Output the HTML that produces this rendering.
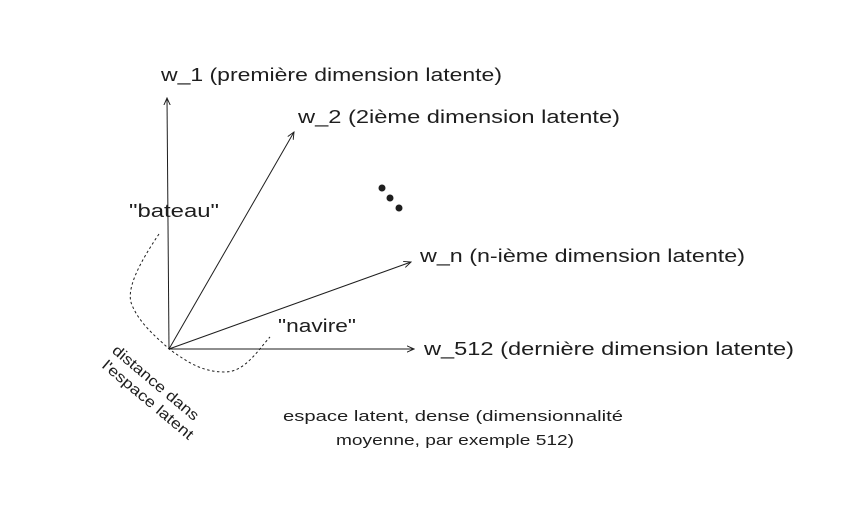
<!DOCTYPE html>
<html><head><meta charset="utf-8"><style>html,body{margin:0;padding:0;background:#fff}</style></head>
<body>
<svg width="855" height="522" viewBox="0 0 855 522" xmlns="http://www.w3.org/2000/svg" font-family="Liberation Sans, sans-serif" fill="#1e1e1e">
<defs><marker id="a" viewBox="0 0 10 10" refX="9" refY="5" markerWidth="8" markerHeight="8" orient="auto"><path d="M0,1 L9,5 L0,9" fill="none" stroke="#1e1e1e" stroke-width="1.2"/></marker></defs>
<g stroke="#1e1e1e" stroke-width="1" fill="none" marker-end="url(#a)">
<line x1="169" y1="349" x2="167" y2="98"/>
<line x1="169" y1="349" x2="294" y2="132"/>
<line x1="169" y1="349" x2="411" y2="262"/>
<line x1="169" y1="349" x2="414" y2="349"/>
</g>
<path d="M159,234 C140,262 125,290 132,305 C140,325 160,340 169,349 C185,360 200,372 225,372 C245,372 258,350 270,337" fill="none" stroke="#1e1e1e" stroke-width="1" stroke-dasharray="2.5,2.5"/>
<circle cx="382" cy="188" r="3.5"/><circle cx="390" cy="198" r="3.5"/><circle cx="399" cy="208" r="3.5"/>
<g font-size="18">
<text x="161" y="81" textLength="341" lengthAdjust="spacingAndGlyphs">w_1 (première dimension latente)</text>
<text x="298" y="123" textLength="322" lengthAdjust="spacingAndGlyphs">w_2 (2ième dimension latente)</text>
<text x="420" y="262" textLength="325" lengthAdjust="spacingAndGlyphs">w_n (n-ième dimension latente)</text>
<text x="424" y="355" textLength="370" lengthAdjust="spacingAndGlyphs">w_512 (dernière dimension latente)</text>
<text x="129" y="217" textLength="90" lengthAdjust="spacingAndGlyphs">"bateau"</text>
<text x="278" y="332" textLength="78" lengthAdjust="spacingAndGlyphs">"navire"</text>
</g>
<g font-size="15">
<text x="283" y="421" textLength="340" lengthAdjust="spacingAndGlyphs">espace latent, dense (dimensionnalité</text>
<text x="336" y="445" textLength="238" lengthAdjust="spacingAndGlyphs">moyenne, par exemple 512)</text>
</g>
<g font-size="15" transform="translate(148,392) rotate(40)">
<text x="-54" y="-7" textLength="108" lengthAdjust="spacingAndGlyphs">distance dans</text>
<text x="-52" y="11" textLength="114" lengthAdjust="spacingAndGlyphs">l'espace latent</text>
</g>
</svg>
</body></html>
